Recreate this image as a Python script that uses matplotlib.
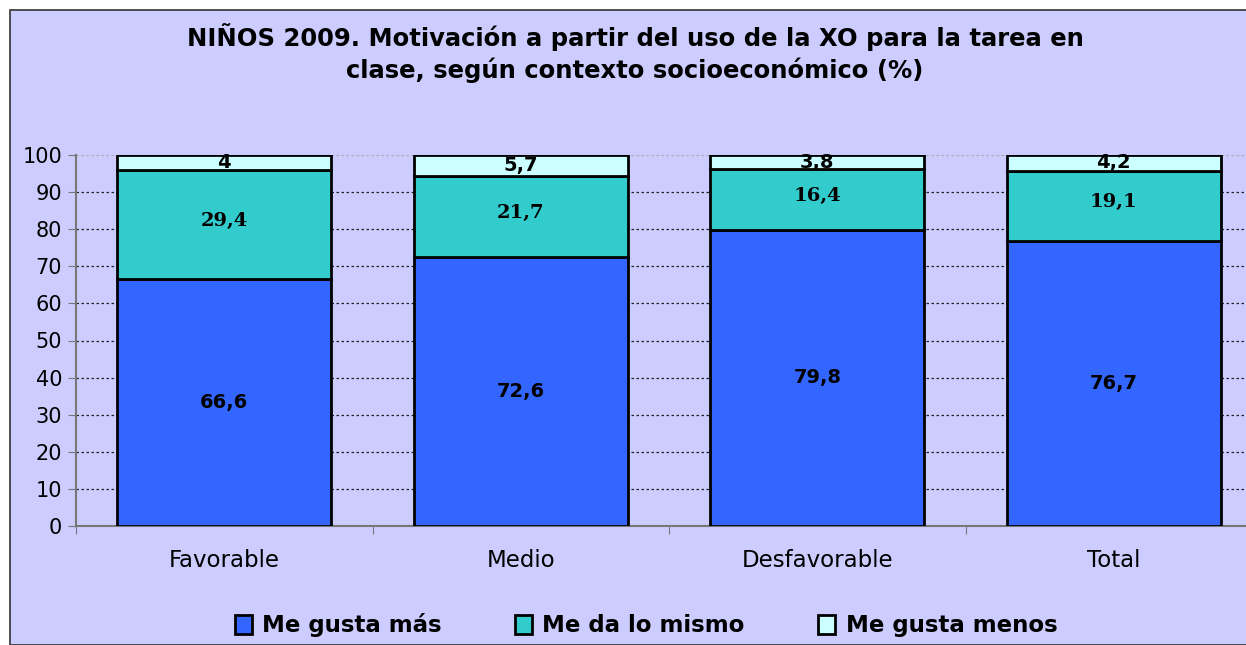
import matplotlib
matplotlib.use("Agg")
import matplotlib.pyplot as plt
from matplotlib.patches import Rectangle

categories = ["Favorable", "Medio", "Desfavorable", "Total"]
me_gusta_mas = [66.6, 72.6, 79.8, 76.7]
me_da_lo_mismo = [29.4, 21.7, 16.4, 19.1]
me_gusta_menos = [4.0, 5.7, 3.8, 4.2]
labels_mas = ["66,6", "72,6", "79,8", "76,7"]
labels_mismo = ["29,4", "21,7", "16,4", "19,1"]
labels_menos = ["4", "5,7", "3,8", "4,2"]
series_names = ["Me gusta más", "Me da lo mismo", "Me gusta menos"]
yticks = [0, 10, 20, 30, 40, 50, 60, 70, 80, 90, 100]

SANS = "DejaVu Sans"
SERIF = "DejaVu Serif"

W, H = 1246, 645
fig = plt.figure(figsize=(W / 100, H / 100), dpi=100)
fig.patch.set_facecolor("white")
bg = "#CCCCFF"
fig.patches.append(Rectangle((10 / W, 0), 1.2, (H - 10) / H, transform=fig.transFigure,
                             facecolor=bg, edgecolor="#333333", linewidth=1.2, zorder=-10))

left, right, top, bottom = 76, 1262, 155, 526
ax = fig.add_axes([left / W, (H - bottom) / H, (right - left) / W, (bottom - top) / H])
ax.set_facecolor("none")
ax.set_xlim(0, 4)
ax.set_ylim(0, 100)

x = [i + 0.5 for i in range(len(categories))]
bw = 0.723
c_mas, c_mismo, c_menos = "#3366FF", "#33CCCC", "#CCFFFF"
b1 = ax.bar(x, me_gusta_mas, bw, color=c_mas, edgecolor="black", linewidth=2, zorder=3)
b2 = ax.bar(x, me_da_lo_mismo, bw, bottom=me_gusta_mas, color=c_mismo, edgecolor="black", linewidth=2, zorder=3)
bottoms3 = [a + b for a, b in zip(me_gusta_mas, me_da_lo_mismo)]
b3 = ax.bar(x, me_gusta_menos, bw, bottom=bottoms3, color=c_menos, edgecolor="black", linewidth=2, zorder=3)

for i in range(len(categories)):
    ax.text(x[i], me_gusta_mas[i] / 2, labels_mas[i], ha="center", va="center",
            fontsize=14, fontweight="bold", family=SANS, zorder=5)
    ax.text(x[i], me_gusta_mas[i] + me_da_lo_mismo[i] / 2 + 1.0, labels_mismo[i], ha="center", va="center",
            fontsize=14, fontweight="bold", family=SERIF, zorder=5)
    ax.text(x[i], bottoms3[i] + me_gusta_menos[i] / 2, labels_menos[i], ha="center", va="center",
            fontsize=14, fontweight="bold", family=SANS, zorder=5)

for y in yticks[1:-1]:
    ax.axhline(y, color="#222222", linestyle=(0, (2, 2)), linewidth=0.9, zorder=1)
ax.axhline(100, color="#AAAAAA", linestyle=(0, (2, 2)), linewidth=0.9, zorder=1)

for s in ["top", "right"]:
    ax.spines[s].set_visible(False)
for s in ["left", "bottom"]:
    ax.spines[s].set_color("#777777")
    ax.spines[s].set_linewidth(1.5)

ax.set_yticks(yticks)
ax.set_yticklabels([str(v) for v in yticks], fontsize=15, family=SANS)
ax.tick_params(axis="y", length=6, color="#777777", pad=4)
ax.set_xticks([0, 1, 2, 3, 4])
ax.set_xticklabels([])
ax.tick_params(axis="x", length=6, color="#777777")
for i, c in enumerate(categories):
    ax.text(x[i], -9.2, c, ha="center", va="center", fontsize=16.5, family=SANS,
            transform=ax.transData)

fig.text(635 / W, 1 - 37 / H, "NIÑOS 2009. Motivación a partir del uso de la XO para la tarea en",
         ha="center", va="center", fontsize=17.5, fontweight="bold", family=SANS)
fig.text(635 / W, 1 - 70 / H, "clase, según contexto socioeconómico (%)",
         ha="center", va="center", fontsize=17.5, fontweight="bold", family=SANS)

leg = fig.legend([b1, b2, b3], series_names, loc="center", bbox_to_anchor=(646 / W, 1 - 625 / H),
                 ncol=3, frameon=False, handlelength=0.75, handleheight=0.9, handletextpad=0.45,
                 columnspacing=3.2, prop={"family": SANS, "weight": "bold", "size": 16.5})
for h in leg.legend_handles:
    h.set_linewidth(2)

fig.savefig("out.png", dpi=100, facecolor=fig.get_facecolor())
